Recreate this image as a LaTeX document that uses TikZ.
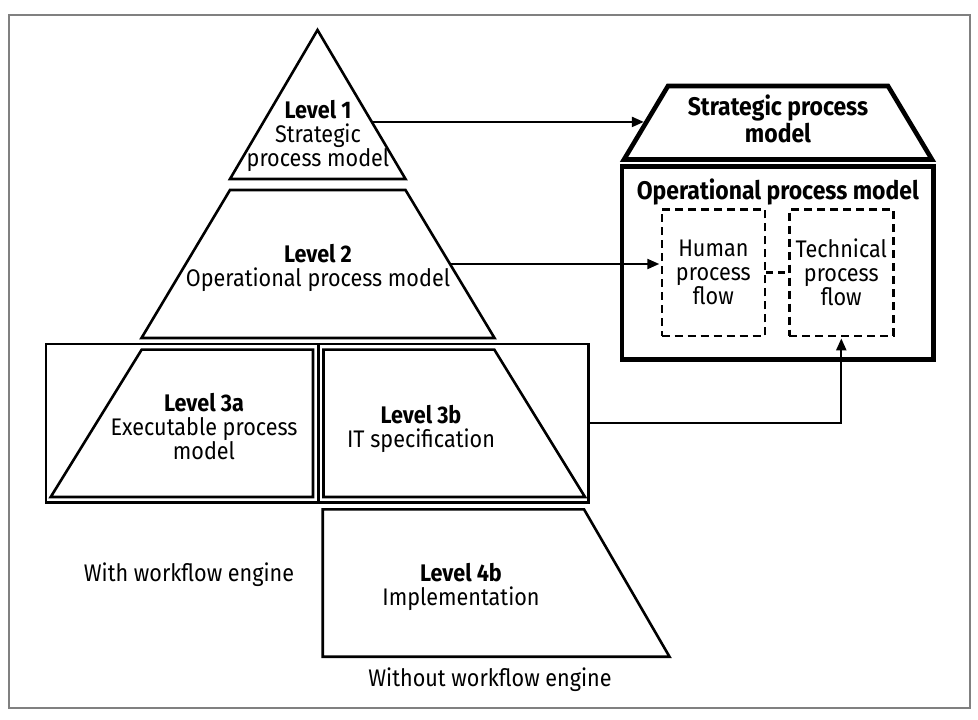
\documentclass[tikz,border=0pt]{standalone}
\usepackage{fontspec}
\setmainfont{Fira Sans}[FakeStretch=0.9]
\usetikzlibrary{arrows.meta,calc}
\begin{document}
\begin{tikzpicture}[x=1pt,y=-1pt,
  shp/.style={draw, line width=2.6pt, line join=miter},
  thickshp/.style={draw, line width=4.6pt, line join=miter},
  dashbox/.style={draw, line width=2.4pt, dash pattern=on 8pt off 5pt, align=center,
    font=\fontsize{24}{24}\selectfont, inner sep=0pt},
  conn/.style={line width=2.2pt, -{Triangle[length=12pt,width=10pt]}},
  lbl/.style={align=center, font=\fontsize{24}{24}\selectfont, inner sep=0pt},
  ttl/.style={align=center, font=\bfseries\fontsize{25.5}{23}\selectfont, inner sep=0pt},
  frame/.style={draw=black!50, line width=1.5pt}]
\useasboundingbox (0,0) rectangle (978,720);
\draw[frame] (9,15) rectangle (970,708);
% pyramid corners
\coordinate (l1t) at (317.5,30);
\coordinate (l1br) at (405.5,179);
\coordinate (l1bl) at (230,179);
\coordinate (l2tl) at (230,190);
\coordinate (l2tr) at (405.5,190);
\coordinate (l2br) at (494.5,338);
\coordinate (l2bl) at (141.5,338);
\draw[shp] (l1t) -- (l1br) -- (l1bl) -- cycle;
\draw[shp] (l2tl) -- (l2tr) -- (l2br) -- (l2bl) -- cycle;
% level 3
\node[shp, minimum width=542.7pt, minimum height=158.7pt, inner sep=0pt] (outer3) at (317.35,423.35) {};
\draw[shp] (318.3,344) -- (318.3,502.7);
\draw[shp] (141.7,349.6) -- (313,349.6) -- (313,497) -- (50.7,497) -- cycle;
\draw[shp] (323.5,349.6) -- (494.3,349.6) -- (585,497) -- (323.5,497) -- cycle;
% level 4b
\draw[shp] (322.7,509.3) -- (584,509.3) -- (669.5,656.7) -- (322.7,656.7) -- cycle;
% texts (anchor base = baseline of last line)
\node[lbl, anchor=base] (t1) at (318,166) {\textbf{Level 1}\\Strategic\\process model};
\node[lbl, anchor=base] (t2) at (318,286) {\textbf{Level 2}\\Operational process model};
\node[lbl, anchor=base] (t3a) at (204,459) {\textbf{Level 3a}\\Executable process\\model};
\node[lbl, anchor=base] (t3b) at (421,447) {\textbf{Level 3b}\\IT specification};
\node[lbl, anchor=base] (t4b) at (461,605) {\textbf{Level 4b}\\Implementation};
\node[lbl, anchor=base] (with) at (189,581) {With workflow engine};
\node[lbl, anchor=base] (without) at (490,686) {Without workflow engine};
% right side
\coordinate (sptl) at (668,86);
\coordinate (sptr) at (888,86);
\coordinate (spbr) at (932,159.5);
\coordinate (spbl) at (624,159.5);
\draw[thickshp] (sptl) -- (sptr) -- (spbr) -- (spbl) -- cycle;
\node[ttl, anchor=base] (sp) at (778,142) {Strategic process\\model};
\node[draw, line width=4.6pt, minimum width=311.7pt, minimum height=192.6pt, inner sep=0pt] (op) at (777.85,263) {};
\node[ttl, anchor=base] (optitle) at (777.85,199) {Operational process model};
\node[dashbox, minimum width=103.3pt, minimum height=126.7pt] (human) at (713.35,272.65) {Human\\process\\flow};
\node[dashbox, minimum width=104pt, minimum height=126.7pt] (tech) at (841.3,272.65) {Technical\\process\\flow};
\draw[line width=2.4pt, dash pattern=on 7pt off 5pt] (human.east) -- (tech.west);
% connectors
\coordinate (a1s) at ($(l1t)!0.617!(l1br)$);
\coordinate (a1e) at ($(sptl)!0.49!(spbl)$);
\coordinate (a2s) at ($(l2tr)!0.50!(l2br)$);
\draw[conn, shorten >=2.6pt] (a1s) -- (a1s -| a1e);
\draw[conn, shorten >=1.2pt] (a2s) -- (a2s -| human.west);
\draw[conn, shorten >=1.2pt] (outer3.east) -| (tech.south);
\end{tikzpicture}
\end{document}
